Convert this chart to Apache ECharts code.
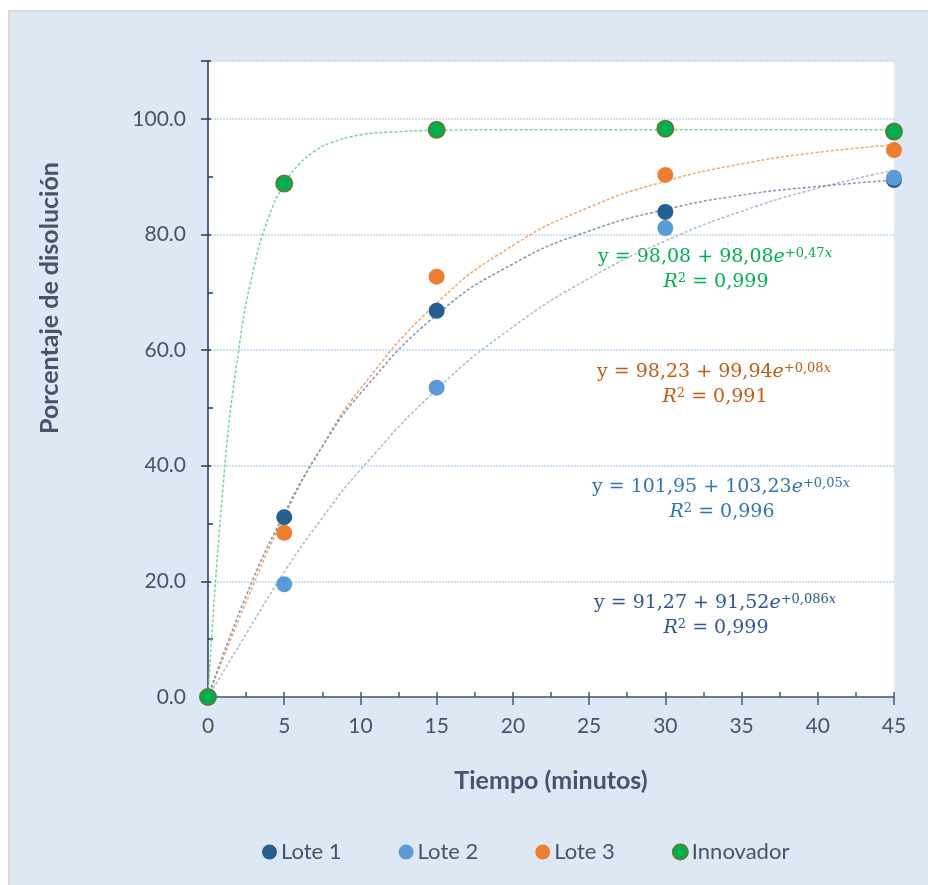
<!DOCTYPE html>
<html>
<head>
<meta charset="utf-8">
<script src="https://cdn.jsdelivr.net/npm/echarts@6/dist/echarts.min.js"></script>
<style>
  html, body { margin: 0; padding: 0; background: #fff; }
  #wrap { position: absolute; left: 8px; top: 10px; border-left: 2px solid #d9d9d9; border-top: 2px solid #d9d9d9; background: #dde8f4; }
  #chart { width: 918px; height: 873px; }
</style>
</head>
<body>
<div id="wrap"><div id="chart"></div></div>
<script>
const tiempos = [0, 5, 15, 30, 45];
const lote1 = [0, 31.1, 66.8, 83.9, 89.4];
const lote2 = [0, 19.5, 53.5, 81.1, 89.8];
const lote3 = [0, 28.4, 72.7, 90.3, 94.6];
const innovador = [0, 88.8, 98.1, 98.3, 97.8];

// curvas de tendencia punteadas
const tendX = [0, 2.5, 5, 7.5, 10, 15, 20, 25, 30, 35, 40, 45];
const tend1 = [0, 17.5, 31.7, 43.3, 52.5, 66.1, 74.9, 80.6, 84.3, 86.8, 88.3, 89.4];
const tend2 = [0, 10.9, 21.6, 31.0, 39.3, 53.2, 64.0, 72.4, 78.9, 84.0, 88.0, 91.1];
const tend3 = [0, 16.4, 31.2, 43.4, 53.3, 68.1, 78.1, 84.7, 89.2, 92.2, 94.2, 95.5];
const tendXInn = [0, 1, 2, 3, 4, 5, 6, 7, 8, 10, 12, 15, 20, 30, 45];
const tendInn = [0, 36.8, 59.8, 74.1, 83.1, 88.7, 92.2, 94.4, 95.8, 97.2, 97.7, 98.0, 98.1, 98.1, 98.1];

const nombres = ['Lote 1', 'Lote 2', 'Lote 3', 'Innovador'];
const ecuaciones = [
  { coef: '98,08 + 98,08', exp: '+0,47', r2: '0,999' },
  { coef: '98,23 + 99,94', exp: '+0,08', r2: '0,991' },
  { coef: '101,95 + 103,23', exp: '+0,05', r2: '0,996' },
  { coef: '91,27 + 91,52', exp: '+0,086', r2: '0,999' },
];

const txt = '#44546a';
const font = 'Lato';
const colores = ['#255e91', '#5b9bd5', '#ed7d31', '#00b050'];
const trendCol = ['#8496b0', '#adb9ca', '#f0a46e', '#6fd69a'];
const eqCol = ['#00b050', '#c55a11', '#2e75b6', '#2f5597'];
const eqPos = [[705, 245], [704, 360], [711, 475], [705, 591]];

const pares = (xs, ys) => xs.map((x, i) => [x, ys[i]]);

function scatter(i, data) {
  return {
    name: nombres[i], type: 'scatter', data: pares(tiempos, data),
    symbolSize: 16, z: 5,
    itemStyle: {
      color: colores[i], opacity: 1,
      borderColor: i === 3 ? '#548235' : colores[i], borderWidth: i === 3 ? 2 : 0,
    },
  };
}
function trend(xs, ys, c) {
  return {
    type: 'line', data: pares(xs, ys), smooth: 0.5,
    showSymbol: false, silent: true, z: 2,
    lineStyle: { color: c, width: 1.5, type: [3, 2] },
  };
}

const ff = 'DejaVu Serif';
const rich = c => ({
  n: { fontFamily: ff, fontSize: 19, fill: c },
  i: { fontFamily: ff, fontStyle: 'italic', fontSize: 19, fill: c },
  s: { fontFamily: ff, fontSize: 13, fill: c, verticalAlign: 'top', lineHeight: 12 },
  si: { fontFamily: ff, fontStyle: 'italic', fontSize: 13, fill: c, verticalAlign: 'top', lineHeight: 12 },
});

const graphic = [{
  type: 'text', x: 40, y: 286, rotation: Math.PI / 2,
  style: { text: 'Porcentaje de disolución', font: 'bold 25px ' + font, fill: txt,
    textAlign: 'center', textVerticalAlign: 'middle' },
}];
ecuaciones.forEach((e, k) => {
  const [x, y] = eqPos[k];
  graphic.push({
    type: 'text', x, y,
    style: { text: `{n|y = ${e.coef}}{i|e}{s|${e.exp}}{si|x}`, rich: rich(eqCol[k]),
      textAlign: 'center', textVerticalAlign: 'middle' },
  });
  graphic.push({
    type: 'text', x: x + 1, y: y + 25,
    style: { text: `{i|R}{s|2}{n| = ${e.r2}}`, rich: rich(eqCol[k]),
      textAlign: 'center', textVerticalAlign: 'middle' },
  });
});

const chart = echarts.init(document.getElementById('chart'), null, { renderer: 'canvas' });
chart.setOption({
  animation: false,
  backgroundColor: 'transparent',
  grid: { left: 198, right: 34, top: 49, bottom: 188, show: true, backgroundColor: '#fff', borderWidth: 0 },
  legend: {
    data: nombres, left: 247, top: 824, icon: 'circle', itemWidth: 15, itemHeight: 15,
    itemGap: 57, textStyle: { color: txt, fontSize: 22, fontFamily: font, padding: [0, 0, 0, -1] },
  },
  xAxis: [{
    type: 'value', min: 0, max: 45, interval: 5,
    name: 'Tiempo (minutos)', nameLocation: 'middle', nameGap: 71,
    nameTextStyle: { color: txt, fontSize: 25, fontWeight: 'bold', fontFamily: font },
    axisLine: { lineStyle: { color: '#4a5a70', width: 1.5 } },
    axisTick: { length: 8, lineStyle: { color: '#4a5a70', width: 1.5 } },
    axisLabel: { color: txt, fontSize: 21, fontFamily: font, margin: 19 },
    splitLine: { show: false },
  }, {
    type: 'value', min: 0, max: 45, interval: 5, position: 'bottom',
    axisLine: { show: false }, axisLabel: { show: false }, splitLine: { show: false },
    axisTick: { inside: true, length: 5, lineStyle: { color: '#4a5a70', width: 1.5 } },
    minorTick: { show: true, splitNumber: 2, length: 5, lineStyle: { color: '#4a5a70', width: 1.5 } },
  }],
  yAxis: [{
    type: 'value', min: 0, max: 110, interval: 20,
    axisLine: { show: true, lineStyle: { color: '#203864', width: 1.5 } },
    axisTick: { show: true, length: 7, lineStyle: { color: '#203864', width: 1.5 } },
    axisLabel: { color: txt, fontSize: 21, fontFamily: font, margin: 22,
      formatter: v => (v > 100 ? '' : v.toFixed(1)) },
    splitLine: { lineStyle: { color: '#bdd7ee', width: 1.5, type: [2, 1] } },
  }, {
    type: 'value', min: 0, max: 110, interval: 20, position: 'left',
    axisLine: { show: false }, axisLabel: { show: false }, splitLine: { show: false },
    axisTick: { show: true, inside: true, length: 3, lineStyle: { color: '#203864', width: 1.5 } },
    minorTick: { show: true, splitNumber: 2, length: 5, lineStyle: { color: '#203864', width: 1.5 } },
  }],
  series: [
    trend(tendXInn, tendInn, trendCol[3]),
    trend(tendX, tend3, trendCol[2]),
    trend(tendX, tend2, trendCol[1]),
    trend(tendX, tend1, trendCol[0]),
    scatter(0, lote1),
    scatter(1, lote2),
    scatter(2, lote3),
    scatter(3, innovador),
  ],
  graphic,
});
</script>
</body>
</html>
